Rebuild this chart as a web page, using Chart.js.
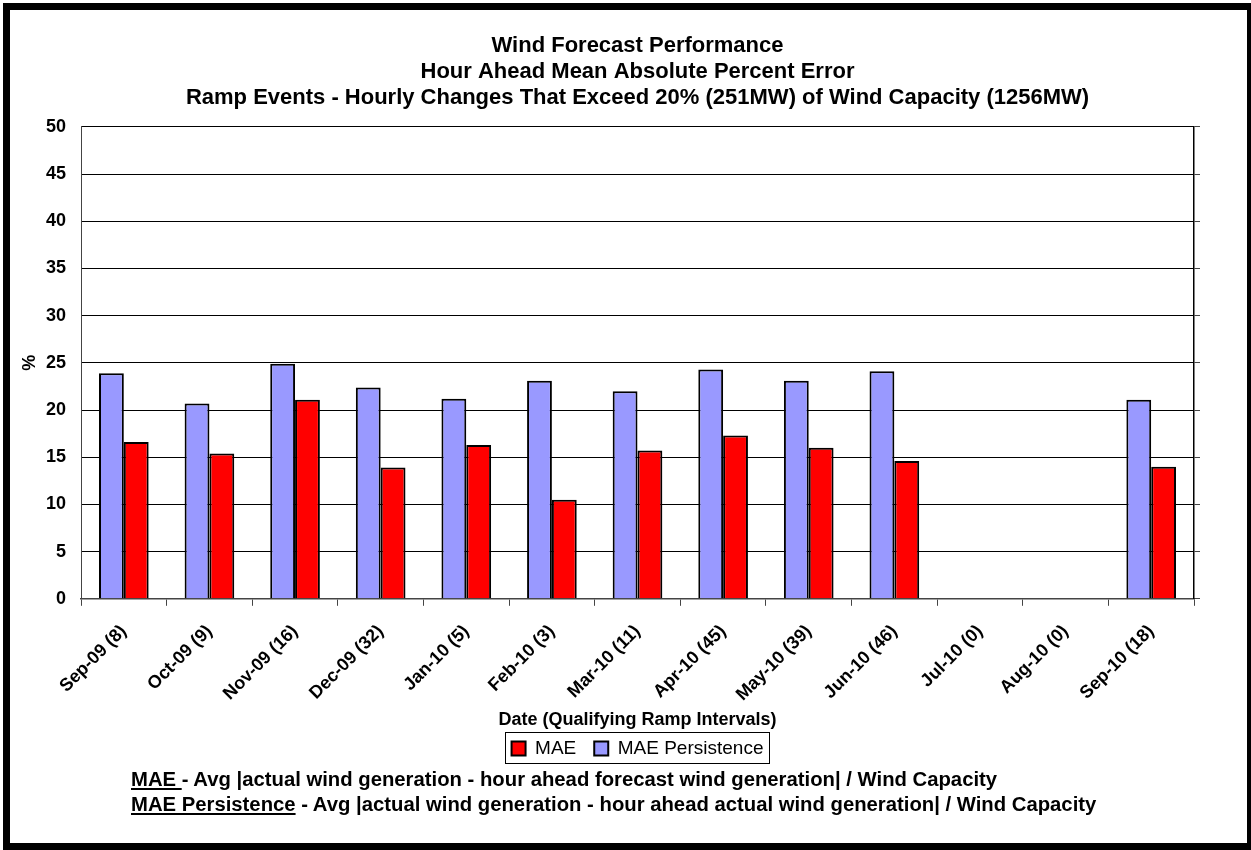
<!DOCTYPE html>
<html>
<head>
<meta charset="utf-8">
<script src="https://cdn.jsdelivr.net/npm/chart.js@4/dist/chart.umd.min.js"></script>
<style>
  html, body { margin: 0; padding: 0; background: #fff; }
  body { width: 1251px; height: 850px; position: relative; overflow: hidden; font-family: "Liberation Sans", Arial, sans-serif; }
  #frame { position: absolute; left: 3px; top: 3px; width: 1237px; height: 833px; border: 7px solid #000; }
  #wrap { position: absolute; left: 0; top: 0; width: 1251px; height: 850px; }
  .note { position: absolute; left: 131px; font-weight: bold; font-size: 20.3px; line-height: 20px; color: #000; white-space: nowrap; }
</style>
</head>
<body>
<div id="wrap"><canvas id="c" width="1251" height="850"></canvas></div>
<div id="frame"></div>
<div class="note" id="n1" style="top:769px;"><u>MAE </u>- Avg |actual wind generation - hour ahead forecast wind generation| / Wind Capacity</div>
<div class="note" id="n2" style="top:794px;"><u>MAE Persistence</u> - Avg |actual wind generation - hour ahead actual wind generation| / Wind Capacity</div>
<script>
const categories = ["Sep-09 (8)", "Oct-09 (9)", "Nov-09 (16)", "Dec-09 (32)", "Jan-10 (5)", "Feb-10 (3)", "Mar-10 (11)", "Apr-10 (45)", "May-10 (39)", "Jun-10 (46)", "Jul-10 (0)", "Aug-10 (0)", "Sep-10 (18)"];
const maePersistence = [23.9, 20.7, 24.9, 22.4, 21.2, 23.1, 22.0, 24.3, 23.1, 24.1, null, null, 21.1];
const mae = [16.6, 15.4, 21.1, 13.9, 16.3, 10.5, 15.7, 17.3, 16.0, 14.6, null, null, 14.0];
const titleLines = ["Wind Forecast Performance", "Hour Ahead Mean Absolute Percent Error", "Ramp Events - Hourly Changes That Exceed 20% (251MW) of Wind Capacity (1256MW)"];
const yMin = 0, yMax = 50, yStep = 5;

const FONT = '"Liberation Sans", Arial, sans-serif';

const legendBorder = {
  id: 'legendBorder',
  afterDraw(chart) {
    const boxes = chart.legend && chart.legend.legendHitBoxes;
    if (!boxes || !boxes.length) return;
    let l = Infinity, t = Infinity, r = -Infinity, b = -Infinity;
    boxes.forEach(h => { l = Math.min(l, h.left); t = Math.min(t, h.top); r = Math.max(r, h.left + h.width); b = Math.max(b, h.top + h.height); });
    const ctx = chart.ctx;
    ctx.save();
    ctx.strokeStyle = '#000';
    ctx.lineWidth = 1;
    const x0 = Math.round(l - 7) + 0.5, y0 = Math.round(t - 7) + 0.5;
    const x1 = Math.round(r + 6) + 0.5, y1 = Math.round(b + 5) + 0.5;
    ctx.strokeRect(x0, y0, x1 - x0, y1 - y0);
    ctx.restore();
  }
};

new Chart(document.getElementById('c'), {
  type: 'bar',
  data: {
    labels: categories,
    datasets: [
      { label: 'MAE Persistence', data: maePersistence, backgroundColor: '#9999FF', borderColor: '#000', borderWidth: 2 },
      { label: 'MAE', data: mae, backgroundColor: '#FF0000', borderColor: '#000', borderWidth: 2 }
    ]
  },
  options: {
    responsive: false,
    animation: false,
    devicePixelRatio: 1,
    layout: { padding: { top: 33, left: 19, right: 51, bottom: 82 } },
    datasets: { bar: { categoryPercentage: 0.58, barPercentage: 1.0 } },
    plugins: {
      title: {
        display: true,
        fullSize: false,
        text: titleLines,
        color: '#000',
        font: { family: FONT, size: 22, weight: 'bold', lineHeight: 1.18 },
        padding: { top: 0, bottom: 16 }
      },
      legend: {
        position: 'bottom',
        fullSize: false,
        reverse: true,
        labels: {
          color: '#000',
          font: { family: FONT, size: 19 },
          boxWidth: 14,
          boxHeight: 14,
          padding: 18
        }
      },
      tooltip: { enabled: false }
    },
    scales: {
      x: {
        grid: { display: true, drawOnChartArea: false, offset: true, color: '#444', tickLength: 7 },
        border: { display: true, color: '#444', width: 1.5 },
        ticks: { color: '#000', font: { family: FONT, size: 18, weight: 'bold' }, maxRotation: 45, minRotation: 45, autoSkip: false, padding: 15 },
        title: { display: true, text: 'Date (Qualifying Ramp Intervals)', color: '#000', font: { family: FONT, size: 18, weight: 'bold' }, padding: { top: -11, bottom: -10 } }
      },
      y: {
        min: yMin, max: yMax,
        grid: { color: '#000', tickLength: 0, drawTicks: false },
        border: { display: true, color: '#444', width: 1 },
        ticks: { stepSize: yStep, color: '#000', font: { family: FONT, size: 18, weight: 'bold' }, padding: 15 },
        title: { display: true, text: '%', color: '#000', font: { family: FONT, size: 18, weight: 'bold' }, padding: { top: 0, bottom: -9.6 } }
      },
      y2: {
        position: 'right',
        min: yMin, max: yMax,
        grid: { drawOnChartArea: false, color: '#444', tickLength: 6 },
        border: { display: true, color: '#000', width: 1.5 },
        ticks: { stepSize: yStep, display: false }
      }
    }
  },
  plugins: [legendBorder]
});
</script>
</body>
</html>
